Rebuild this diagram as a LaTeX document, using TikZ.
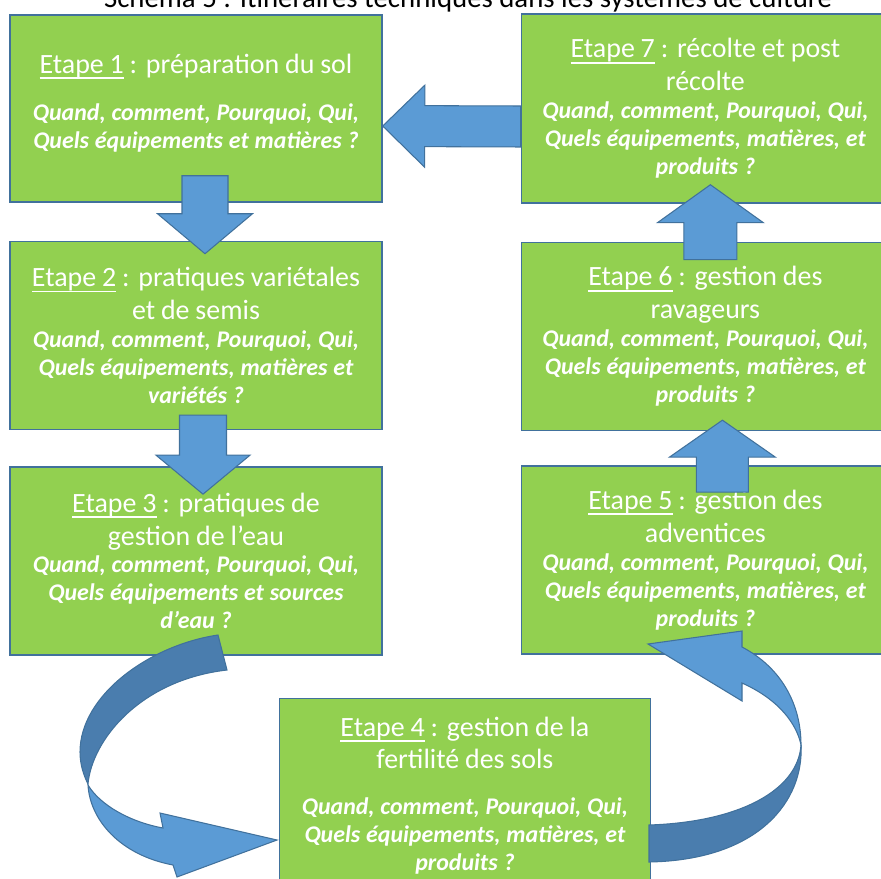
\documentclass[tikz,border=0pt]{standalone}
\usepackage{fontspec}
\setmainfont{Carlito}
\usepackage{tikz}
\usetikzlibrary{positioning, calc}
\definecolor{boxgreen}{HTML}{92D050}
\definecolor{boxline}{HTML}{41719C}
\definecolor{arrowblue}{HTML}{5B9BD5}
\definecolor{arrowdark}{HTML}{4A7DAE}
\tikzstyle{stepbox} = [rectangle, draw=boxline, line width=0.85pt, fill=boxgreen, text=white, inner sep=0pt, text width=7.2cm, align=center, minimum height=3.76cm]
\tikzstyle{leftbox} = [stepbox, minimum width=7.44cm]
\tikzstyle{rightbox} = [stepbox, minimum width=7.36cm]
\tikzstyle{blockarrow} = [fill=arrowblue, draw=boxline, line width=0.6pt, line join=miter]
\tikzstyle{bandfront} = [fill=arrowblue, draw=boxline, line width=0.6pt]
\tikzstyle{bandback} = [fill=arrowdark, draw=boxline, line width=0.6pt]
\newcommand{\hdr}{\fontsize{15.9}{18.7}\selectfont}
\newcommand{\qst}{\fontsize{13.6}{15.9}\selectfont\bfseries\itshape}
\newcommand{\stepul}[1]{\setbox0=\hbox{#1}\rlap{\rule[-0.2em]{\wd0}{0.06em}}\box0\relax}
% block arrow: tail, tip, half shaft, half head, head length
\newcommand{\blockarrow}[5]{%
  \filldraw[blockarrow] ($(#1)!#3!90:(#2)$) -- ($(#2)!#5!(#1)!#3!90:(#2)$) -- ($(#2)!#5!(#1)!#4!90:(#2)$) -- (#2)
    -- ($(#2)!#5!(#1)!#4!-90:(#2)$) -- ($(#2)!#5!(#1)!#3!-90:(#2)$) -- ($(#1)!#3!-90:(#2)$) -- cycle;}
\begin{document}
\begin{tikzpicture}[x=0.02cm, y=-0.02cm]
	\useasboundingbox (0,0) rectangle (881,878);
	\clip (0,0) rectangle (881,878);
	
	\node (title) [anchor=base, font=\fontsize{16.4}{19}\selectfont] at (468,8) {Schéma 5 : Itinéraires techniques dans les systèmes de culture};
	
	\node (b1) [leftbox, minimum height=3.74cm] at (196,108.5) {{\hdr\stepul{Etape 1} : préparation du sol\par}\vspace{11pt}{\qst Quand, comment, Pourquoi, Qui,\\Quels équipements et matières ?\par}\vspace{6pt}};
	\node (b2) [leftbox, below=0.76cm of b1] {{\hdr\stepul{Etape 2} : pratiques variétales\\et de semis\par}{\qst Quand, comment, Pourquoi, Qui,\\Quels équipements, matières et\\variétés ?\par}};
	\node (b3) [leftbox, below=0.72cm of b2] {{\hdr\stepul{Etape 3} : pratiques de\\gestion de l’eau\par}{\qst Quand, comment, Pourquoi, Qui,\\Quels équipements et sources\\d’eau ?\par}};
	
	\node (b7) [rightbox, minimum height=3.78cm, right=2.76cm of b1] {{\hdr\stepul{Etape 7} : récolte et post\\récolte\par}{\qst Quand, comment, Pourquoi, Qui,\\Quels équipements, matières, et\\produits ?\par}};
	\node (b6) [rightbox, below=0.76cm of b7] {{\hdr\stepul{Etape 6} : gestion des\\ravageurs\par}{\qst Quand, comment, Pourquoi, Qui,\\Quels équipements, matières, et\\produits ?\par}};
	\node (b5) [rightbox, below=0.68cm of b6] {{\hdr\stepul{Etape 5} : gestion des\\adventices\par}{\qst Quand, comment, Pourquoi, Qui,\\Quels équipements, matières, et\\produits ?\par}};
	
	\node (b4) [stepbox, minimum width=7.42cm, minimum height=3.88cm, below right=0.84cm and -2.08cm of b3] {{\hdr\stepul{Etape 4} : gestion de la\\fertilité des sols\par}\vspace{10pt}{\qst Quand, comment, Pourquoi, Qui,\\Quels équipements, matières, et\\produits ?\par}};
	
	% straight arrows
	\coordinate (a12s) at ($(b1.south)+(9,-27)$);
	\coordinate (a12e) at ($(b2.north)+(9,13)$);
	\coordinate (a23s) at ($(b2.south)+(7,-15)$);
	\coordinate (a23e) at ($(b3.north)+(7,28)$);
	\coordinate (a56s) at ($(b5.north)+(17,27)$);
	\coordinate (a56e) at ($(b6.south)+(17,-11)$);
	\coordinate (a67s) at ($(b6.north)+(5,18)$);
	\coordinate (a67e) at ($(b7.south)+(5,-19)$);
	\coordinate (a71s) at ($(b7.west)+(0,18)$);
	\coordinate (a71e) at ($(b1.east)+(0,17.5)$);
	
	\blockarrow{a12s}{a12e}{0.46cm}{0.95cm}{0.8cm}
	\blockarrow{a23s}{a23e}{0.47cm}{0.94cm}{0.78cm}
	\blockarrow{a56s}{a56e}{0.52cm}{1.06cm}{0.74cm}
	\blockarrow{a67s}{a67e}{0.53cm}{1.06cm}{0.76cm}
	\blockarrow{a71s}{a71e}{0.41cm}{0.82cm}{0.84cm}
	
	% curved arrow from b3 to b4
	\filldraw[bandback] (218,635) .. controls (150,645) and (80,695) .. (80,752) .. controls (80,765) and (84,776) .. (88,784)
		.. controls (92,740) and (140,680) .. (227,670) -- cycle;
	\filldraw[bandfront] (88,785) .. controls (100,805) and (130,822) .. (163,828) -- (160,813) -- (277,840) -- (177,877) -- (173,865)
		.. controls (120,855) and (90,820) .. (88,785) -- cycle;
	
	% curved arrow from b4 to b5
	\filldraw[bandback] (801,745) .. controls (804,800) and (760,860) .. (649,862) -- (649,825) .. controls (740,822) and (798,790) .. (801,745) -- cycle;
	\filldraw[bandfront] (648,644) -- (742,631) -- (742,647) .. controls (782,668) and (801,705) .. (801,745)
		.. controls (797,725) and (780,700) .. (742,683) -- (742,701) -- cycle;
	
\end{tikzpicture}
\end{document}
